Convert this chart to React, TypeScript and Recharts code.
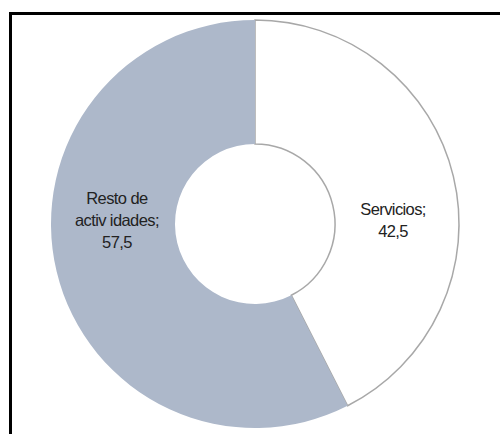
import { PieChart, Pie, Cell } from 'recharts';

const sectors = ['Servicios', 'Resto de actividades'];
const shares = [42.5, 57.5];
const labelLines = [['Servicios;', '42,5'], ['Resto de', 'activ idades;', '57,5']];

const FILLS = ['#ffffff', '#adb8ca'];
const STROKES = ['#a8a8a8', 'none'];

const chartData = sectors.map((name, i) => ({ name, value: shares[i], lines: labelLines[i] }));

const RADIAN = Math.PI / 180;

// label sits on the ring's mid radius, horizontally centred on the chart's middle line
function renderLabel(props: any) {
  const { cx, cy, midAngle, innerRadius, outerRadius, index } = props;
  const r = (innerRadius + outerRadius) / 2;
  const x = cx + r * Math.cos(-midAngle * RADIAN);
  const lines: string[] = chartData[index].lines;
  const lh = 22;
  const y0 = cy - ((lines.length - 1) * lh) / 2 - 4;
  return (
    <text
      x={x}
      y={y0}
      textAnchor="middle"
      dominantBaseline="central"
      fill="#222"
      fontSize={16.5}
      fontFamily="'Liberation Sans', Arial, sans-serif"
      letterSpacing={-0.6}
    >
      {lines.map((t, i) => (
        <tspan key={i} x={x} dy={i === 0 ? 0 : lh}>
          {t}
        </tspan>
      ))}
    </text>
  );
}

export default function App() {
  return (
    <div style={{ position: 'absolute', left: 0, top: 0, width: 500, height: 434, background: '#fff', overflow: 'hidden' }}>
      <div
        style={{
          position: 'absolute',
          left: 9,
          top: 12,
          width: 520,
          height: 450,
          borderLeft: '3px solid #000',
          borderTop: '3px solid #000',
        }}
      />
      <div style={{ position: 'absolute', left: 0, top: 0 }}>
        <PieChart width={500} height={434} margin={{ top: 0, right: 0, bottom: 0, left: 0 }}>
          <Pie
            data={chartData}
            dataKey="value"
            nameKey="name"
            cx={255}
            cy={224}
            innerRadius={80}
            outerRadius={204}
            startAngle={90}
            endAngle={-270}
            labelLine={false}
            label={renderLabel}
            isAnimationActive={false}
          >
            {chartData.map((entry, index) => (
              <Cell key={`cell-${index}`} fill={FILLS[index]} stroke={STROKES[index]} strokeWidth={1.5} />
            ))}
          </Pie>
        </PieChart>
      </div>
    </div>
  );
}
